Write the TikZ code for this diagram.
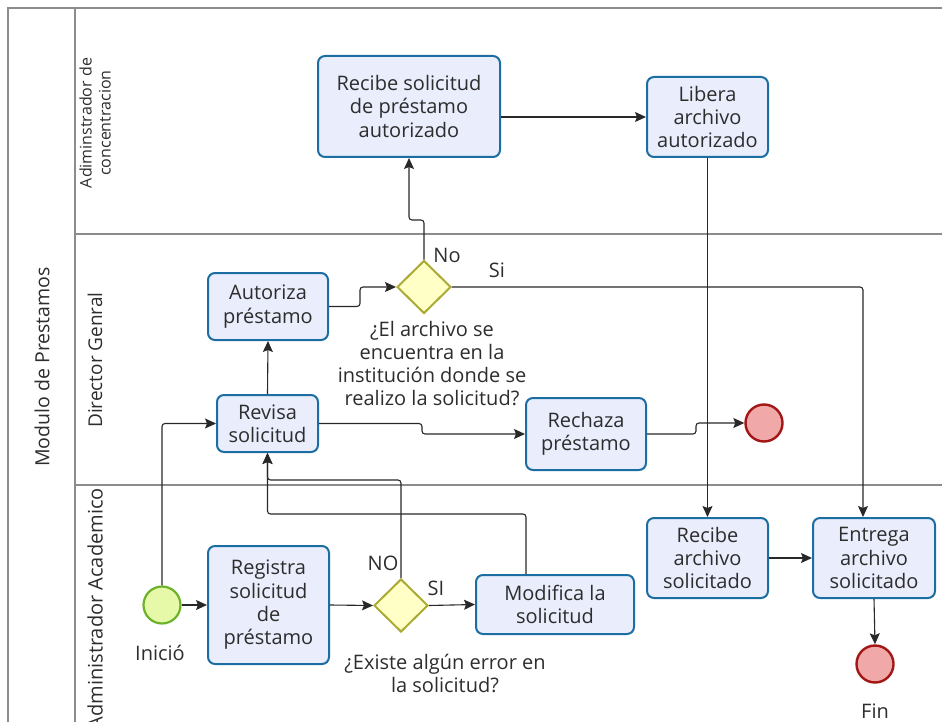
\documentclass[tikz,border=0pt]{standalone}
\usepackage{fontspec}
\setmainfont{Open Sans}
\usetikzlibrary{arrows.meta,shapes.geometric}

\definecolor{taskfill}{RGB}{233,237,252}
\definecolor{taskdraw}{RGB}{28,110,162}
\definecolor{gatefill}{RGB}{255,255,198}
\definecolor{gatedraw}{RGB}{170,170,52}
\definecolor{startfill}{RGB}{230,249,168}
\definecolor{startdraw}{RGB}{108,178,42}
\definecolor{endfill}{RGB}{240,168,168}
\definecolor{enddraw}{RGB}{163,22,22}
\definecolor{lanegray}{RGB}{140,140,140}
\definecolor{linec}{RGB}{40,40,40}
\definecolor{txt}{RGB}{45,45,45}

\tikzset{
  task/.style={draw=taskdraw, fill=taskfill, line width=2pt, rounded corners=7pt,
    align=center, inner sep=0pt, text=txt, font=\fontsize{20}{23.3}\selectfont},
  gateway/.style={diamond, draw=gatedraw, fill=gatefill, line width=2pt,
    inner sep=0pt, minimum width=54pt, minimum height=53pt},
  startev/.style={circle, draw=startdraw, fill=startfill, line width=2.2pt,
    inner sep=0pt, minimum size=37pt},
  endev/.style={circle, draw=enddraw, fill=endfill, line width=2.4pt,
    inner sep=0pt, minimum size=37pt},
  lbl/.style={text=txt, inner sep=0pt, align=center, font=\fontsize{20}{23}\selectfont},
  lanelbl/.style={text=txt, inner sep=0pt, align=center, rotate=90},
  lane/.style={draw=lanegray, line width=1.5pt},
  flow/.style={draw=linec, line width=1.1pt, rounded corners=3pt,
    -{Stealth[length=11pt,width=10pt,inset=2pt]}}
}

\begin{document}
\begin{tikzpicture}[x=1pt,y=-1pt]
\useasboundingbox (0,0) rectangle (942,722);
\clip (0,0) rectangle (942,722);

% pool and lanes
\draw[lane] (942,8) -- (8,8) -- (8,730);
\draw[lane] (75,8) -- (75,730);
\draw[lane] (75,234) -- (942,234);
\draw[lane] (75,485) -- (942,485);

\node[lanelbl, font=\fontsize{19.5}{22}\selectfont] (pool) at (42,367) {Modulo de Prestamos};
\node[lanelbl, font=\fontsize{16}{19}\selectfont] (lane1) at (95,123) {Adiminstrador de\\concentracion};
\node[lanelbl, font=\fontsize{19}{22}\selectfont] (lane2) at (95,360) {Director Genral};
\node[lanelbl, font=\fontsize{20}{22}\selectfont, anchor=east] (lane3) at (95,488) {Administrador Academico};

% tasks
\node[task, minimum width=182pt, minimum height=101pt] (rsp) at (409,106.5) {Recibe solicitud\\de préstamo\\autorizado};
\node[task, minimum width=121pt, minimum height=80pt] (lib) at (707.5,117) {Libera\\archivo\\autorizado};
\node[task, minimum width=120pt, minimum height=67pt] (aut) at (268,306.5) {Autoriza\\préstamo};
\node[task, minimum width=101pt, minimum height=57pt] (rev) at (267.5,423.5) {Revisa\\solicitud};
\node[task, minimum width=120pt, minimum height=72pt] (rech) at (586,434) {Rechaza\\préstamo};
\node[task, minimum width=121pt, minimum height=118pt] (reg) at (268.5,605) {Registra\\solicitud\\de\\préstamo};
\node[task, minimum width=158pt, minimum height=59pt] (mod) at (555,604.5) {Modifica la\\solicitud};
\node[task, minimum width=121pt, minimum height=80pt] (rarch) at (707.5,558) {Recibe\\archivo\\solicitado};
\node[task, minimum width=122pt, minimum height=80pt] (ent) at (874,558) {Entrega\\archivo\\solicitado};

% gateways and events
\node[gateway] (g1) at (424,287) {};
\node[gateway] (g2) at (401,605.5) {};
\node[startev] (start) at (162,605) {};
\node[endev] (end1) at (764,423) {};
\node[endev] (fin) at (875,664) {};

% labels
\node[lbl] (q1) at (432,364) {¿El archivo se\\encuentra en la\\institución donde se\\realizo la solicitud?};
\node[lbl] (q2) at (445,673.5) {¿Existe algún error en\\la solicitud?};
\node[lbl] (lno) at (447,255) {No};
\node[lbl] (lsi) at (497,270) {Si};
\node[lbl] (lNO) at (383,563) {NO};
\node[lbl] (lSI) at (436,588) {SI};
\node[lbl] (linicio) at (160,653) {Inició};
\node[lbl] (lfin) at (875,711) {Fin};

% bend points
\coordinate (a1) at (360,306.5);
\coordinate (a2) at (360,287);
\coordinate (nob) at (424,220);
\coordinate (entin) at ([xshift=-11pt]ent.north);
\coordinate (r1) at (422,423.5);
\coordinate (r2) at (422,434);
\coordinate (e1) at (696,434);
\coordinate (e2) at (696,423);
\coordinate (n1) at (401,480);
\coordinate (modout) at ([xshift=-29pt]mod.north);
\coordinate (m1) at (526,514);

% sequence flows
\draw[flow] (start.east) -- (reg.west);
\draw[flow] (start.north) |- (rev.west);
\draw[flow] (reg.east) -- (g2.west);
\draw[flow] (g2.east) -- (mod.west);
\draw[flow] (g2.north) -- (n1) -| (rev.south);
\draw[flow] (modout) -- (m1) -| (rev.south);
\draw[flow] (rev.north) -- (aut.south);
\draw[flow] (aut.east) -- (a1) -- (a2) -- (g1.west);
\draw[flow] (g1.north) -- (nob) -| (rsp.south);
\draw[flow] (rsp.east |- lib.west) -- (lib.west);
\draw[flow] (lib.south) -- (rarch.north);
\draw[flow] (g1.east) -| (entin);
\draw[flow] (rarch.east) -- (ent.west);
\draw[flow] (ent.south) -- (fin.north);
\draw[flow] (rev.east) -- (r1) -- (r2) -- (rech.west);
\draw[flow] (rech.east) -- (e1) -- (e2) -- (end1.west);
\end{tikzpicture}
\end{document}
